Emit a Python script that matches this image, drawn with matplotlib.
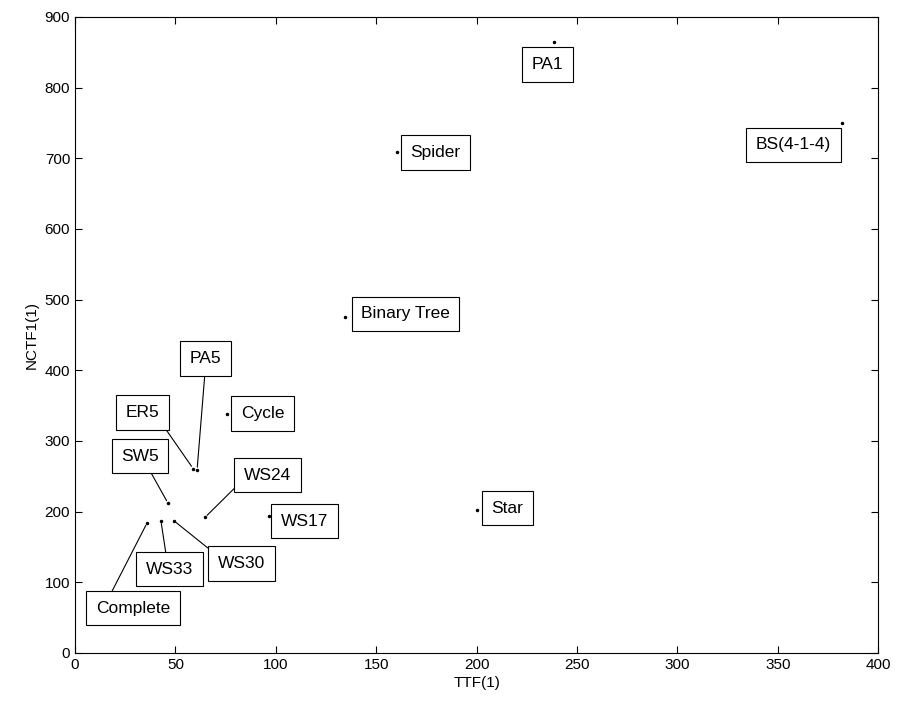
"""
NCTF1(1) en fonction de TTF(1) pour différents graphes
"""

import matplotlib
matplotlib.use("Agg")
import matplotlib.pyplot as plt

# Données
names = ["PA1", "BS(4-1-4)", "Spider", "Binary Tree", "Star", "Cycle",
         "PA5", "ER5", "SW5", "WS24", "WS17", "WS33", "WS30", "Complete"]
ttf = [238.6, 382.0, 160.4, 134.5, 200.2, 75.7,
       60.8, 58.8, 46.3, 64.8, 96.6, 42.8, 49.3, 35.9]
nctf = [864.6, 750.0, 709.0, 476.0, 202.0, 338.0,
        259.0, 261.0, 212.0, 192.0, 194.0, 187.0, 187.0, 184.0]

# Centre de la boîte de chaque étiquette, et point de départ du trait
# (position relative sur la boîte) ou None
label_pos = {
    "PA1": (235.4, 832.7, None),
    "BS(4-1-4)": (357.9, 718.8, None),
    "Spider": (179.5, 708.2, None),
    "Binary Tree": (164.6, 479.7, None),
    "Star": (215.4, 204.5, None),
    "Cycle": (93.4, 338.9, None),
    "PA5": (65.0, 416.7, (0.5, 0)),
    "ER5": (33.6, 340.3, (1, 0)),
    "SW5": (32.4, 278.1, (0.66, 0)),
    "WS24": (95.9, 251.2, (0, 0.27)),
    "WS17": (114.3, 186.1, None),
    "WS33": (47.1, 118.2, (0.45, 1)),
    "WS30": (82.9, 126.6, (0, 1)),
    "Complete": (28.9, 63.0, (0.15, 1)),
}

plt.rcParams['font.family'] = ['Liberation Sans', 'DejaVu Sans']

fig = plt.figure(figsize=(8.97, 7.05), dpi=100)
ax = fig.add_axes([0.0836, 0.0738, 0.8954, 0.9022])

ax.plot(ttf, nctf, 'k.', markersize=3)

for name, x, y in zip(names, ttf, nctf):
    tx, ty, rel = label_pos[name]
    arrow = None
    if rel is not None:
        arrow = dict(arrowstyle='-', color='k', lw=0.8, relpos=rel,
                     shrinkA=0, shrinkB=2)
    ax.annotate(name, xy=(x, y), xytext=(tx, ty), fontsize=12.5,
                ha='center', va='center', arrowprops=arrow,
                bbox=dict(boxstyle='square,pad=0.55', fc='white',
                          ec='k', lw=0.8))

ax.set_xlim(0, 400)
ax.set_ylim(0, 900)
ax.set_xticks(range(0, 401, 50))
ax.set_yticks(range(0, 901, 100))
ax.tick_params(direction='in', top=True, right=True, length=5,
               labelsize=11)
ax.set_xlabel('TTF(1)', fontsize=11, labelpad=3)
ax.set_ylabel('NCTF1(1)', fontsize=11, labelpad=4)

fig.savefig("out.png", dpi=100)
